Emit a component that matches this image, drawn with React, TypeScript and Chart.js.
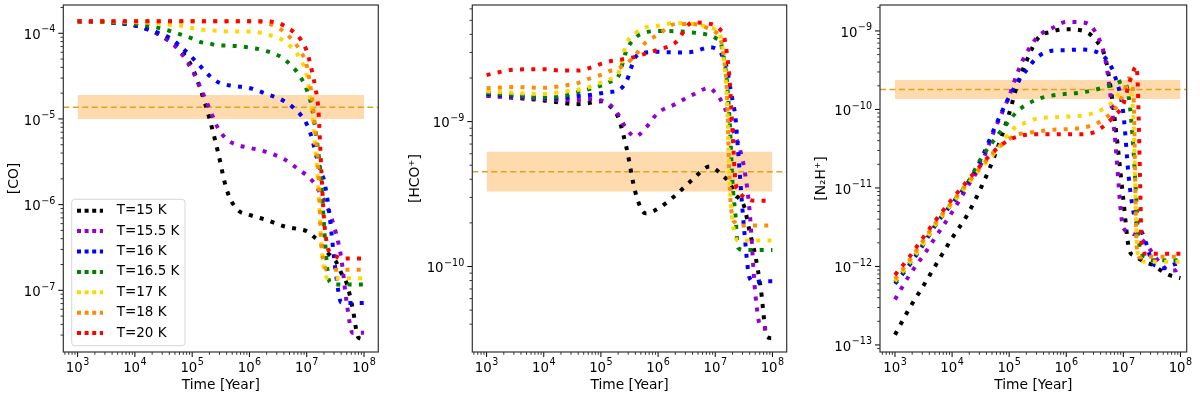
import React, { useEffect, useRef } from 'react';
import { Chart, registerables } from 'chart.js';

Chart.register(...registerables);

const FONT = '"DejaVu Sans", "Liberation Sans", sans-serif';

// ---------- data ----------
const seriesLabels = ['T=15 K', 'T=15.5 K', 'T=16 K', 'T=16.5 K', 'T=17 K', 'T=18 K', 'T=20 K'];
const seriesColors = ['#000000', '#9400D3', '#0000FF', '#008000', '#FFD700', '#FF8C00', '#FF0000'];

// time grid (years) for [CO] and [HCO+]
const timesA = [1e3, 3e3, 1e4, 2e4, 4e4, 6e4, 1e5, 1.4e5, 2e5, 2.8e5, 4e5, 6e5, 1e6, 2e6, 4e6, 8e6,
  1e7, 1.25e7, 1.4e7, 1.6e7, 1.8e7, 2e7, 2.25e7, 2.5e7, 3.2e7, 4e7, 5e7, 6.3e7, 8e7, 1e8];
// time grid (years) for [N2H+]
const timesB = [1e3, 1.8e3, 3.2e3, 5.6e3, 1e4, 1.8e4, 3.2e4, 5.6e4, 1e5, 1.4e5, 2e5, 3.2e5, 5.6e5, 1e6,
  1.8e6, 3.2e6, 5e6, 7e6, 1e7, 1.25e7, 1.5e7, 1.7e7, 1.8e7, 1.95e7, 2.1e7, 2.5e7, 3.2e7, 4e7, 5e7, 6.3e7, 8e7, 1e8];

// [CO]
const coT15 = [1.38e-4, 1.35e-4, 1.23e-4, 1.06e-4, 8.1e-5, 6.6e-5, 4.0e-5, 2.2e-5, 1.02e-5, 4.2e-6, 1.5e-6, 8.9e-7,
  7.6e-7, 6.6e-7, 5.6e-7, 5.1e-7, 4.9e-7, 4.4e-7, 4.1e-7, 3.8e-7, 3.4e-7, 3.1e-7, 2.8e-7, 2.6e-7, 2.2e-7, 1.6e-7,
  1.2e-7, 6.3e-8, 2.8e-8, 2.7e-8];
const coT155 = [1.38e-4, 1.35e-4, 1.23e-4, 1.06e-4, 8.1e-5, 6.2e-5, 3.7e-5, 2.3e-5, 1.32e-5, 7.9e-6, 5.8e-6, 5.0e-6,
  4.6e-6, 4.1e-6, 3.4e-6, 2.45e-6, 2.2e-6, 1.9e-6, 1.74e-6, 1.48e-6, 1.26e-6, 1.12e-6, 9.5e-7, 8.1e-7, 4.8e-7, 2.4e-7,
  7.1e-8, 3.2e-8, 3.2e-8, 3.2e-8];
const coT16 = [1.38e-4, 1.35e-4, 1.24e-4, 1.07e-4, 8.9e-5, 7.2e-5, 5.2e-5, 4.1e-5, 3.2e-5, 2.7e-5, 2.5e-5, 2.4e-5,
  2.3e-5, 1.95e-5, 1.62e-5, 1.1e-5, 8.7e-6, 5.8e-6, 4.2e-6, 3.0e-6, 2.3e-6, 1.95e-6, 1.26e-6, 7.6e-7, 1.66e-7, 7.2e-8,
  7.1e-8, 7.1e-8, 7.1e-8, 7.1e-8];
const coT165 = [1.38e-4, 1.35e-4, 1.29e-4, 1.2e-4, 1.07e-4, 9.8e-5, 8.7e-5, 7.9e-5, 7.6e-5, 7.2e-5, 7.2e-5, 7.1e-5,
  6.8e-5, 6.2e-5, 5.0e-5, 3.0e-5, 2.2e-5, 1.3e-5, 7.9e-6, 4.0e-6, 1.8e-6, 5.8e-7, 2.0e-7, 1.26e-7, 1.17e-7, 1.17e-7,
  1.17e-7, 1.17e-7, 1.17e-7, 1.17e-7];
const coT17 = [1.38e-4, 1.38e-4, 1.35e-4, 1.32e-4, 1.26e-4, 1.23e-4, 1.15e-4, 1.11e-4, 1.08e-4, 1.07e-4, 1.05e-4, 1.05e-4,
  1.05e-4, 9.7e-5, 8.1e-5, 4.8e-5, 3.2e-5, 1.12e-5, 5.0e-6, 1.5e-6, 3.4e-7, 1.8e-7, 1.4e-7, 1.38e-7, 1.38e-7, 1.38e-7,
  1.38e-7, 1.38e-7, 1.38e-7, 1.38e-7];
const coT18 = [1.38e-4, 1.38e-4, 1.38e-4, 1.38e-4, 1.38e-4, 1.38e-4, 1.38e-4, 1.38e-4, 1.38e-4, 1.38e-4, 1.38e-4, 1.38e-4,
  1.38e-4, 1.32e-4, 1.04e-4, 6.0e-5, 4.2e-5, 1.66e-5, 7.9e-6, 2.5e-6, 3.5e-7, 2.1e-7, 1.74e-7, 1.74e-7, 1.74e-7, 1.74e-7,
  1.74e-7, 1.74e-7, 1.74e-7, 1.74e-7];
const coT20 = [1.38e-4, 1.38e-4, 1.38e-4, 1.38e-4, 1.38e-4, 1.38e-4, 1.38e-4, 1.38e-4, 1.38e-4, 1.38e-4, 1.38e-4, 1.38e-4,
  1.38e-4, 1.38e-4, 1.23e-4, 8.3e-5, 6.2e-5, 3.5e-5, 2.4e-5, 1.26e-5, 2.5e-6, 6.9e-7, 3.5e-7, 2.8e-7, 2.5e-7, 2.35e-7,
  2.35e-7, 2.35e-7, 2.35e-7, 2.35e-7];

// [HCO+]
const hcoT15 = [1.51e-9, 1.46e-9, 1.4e-9, 1.35e-9, 1.32e-9, 1.34e-9, 1.38e-9, 1.29e-9, 1.07e-9, 6.6e-10, 3.26e-10, 2.33e-10,
  2.51e-10, 3.09e-10, 3.98e-10, 4.9e-10, 4.7e-10, 4.37e-10, 4.18e-10, 3.98e-10, 3.7e-10, 3.47e-10, 3.09e-10, 3.0e-10,
  2.6e-10, 1.74e-10, 1.2e-10, 6.9e-11, 3.26e-11, 3.2e-11];
const hcoT155 = [1.51e-9, 1.48e-9, 1.43e-9, 1.41e-9, 1.41e-9, 1.43e-9, 1.4e-9, 1.32e-9, 1.12e-9, 8.9e-10, 7.9e-10, 9.0e-10,
  1.15e-9, 1.32e-9, 1.53e-9, 1.71e-9, 1.58e-9, 1.41e-9, 1.29e-9, 1.15e-9, 1.0e-9, 8.9e-10, 7.9e-10, 7.1e-10, 4.8e-10,
  2.4e-10, 6.6e-11, 3.8e-11, 3.76e-11, 3.76e-11];
const hcoT16 = [1.55e-9, 1.51e-9, 1.46e-9, 1.45e-9, 1.5e-9, 1.52e-9, 1.57e-9, 1.6e-9, 1.64e-9, 1.9e-9, 2.78e-9, 3.0e-9,
  3.03e-9, 3.0e-9, 3.03e-9, 3.26e-9, 3.2e-9, 3.0e-9, 2.7e-9, 2.34e-9, 1.78e-9, 1.41e-9, 1.08e-9, 6.4e-10, 1.81e-10,
  8.3e-11, 7.8e-11, 7.9e-11, 7.9e-11, 7.9e-11];
const hcoT165 = [1.58e-9, 1.53e-9, 1.47e-9, 1.49e-9, 1.6e-9, 1.67e-9, 1.77e-9, 1.87e-9, 2.04e-9, 3.1e-9, 3.8e-9, 4.12e-9,
  4.22e-9, 4.2e-9, 4.12e-9, 3.94e-9, 3.79e-9, 3.47e-9, 2.82e-9, 1.9e-9, 9.5e-10, 3.8e-10, 2.29e-10, 1.35e-10, 1.3e-10,
  1.3e-10, 1.3e-10, 1.3e-10, 1.3e-10, 1.3e-10];
const hcoT17 = [1.62e-9, 1.58e-9, 1.55e-9, 1.6e-9, 1.66e-9, 1.72e-9, 1.86e-9, 1.95e-9, 2.14e-9, 3.47e-9, 4.07e-9, 4.47e-9,
  4.59e-9, 4.79e-9, 4.71e-9, 4.47e-9, 4.32e-9, 3.8e-9, 2.75e-9, 1.41e-9, 3.55e-10, 2.09e-10, 1.62e-10, 1.5e-10, 1.51e-10,
  1.51e-10, 1.51e-10, 1.51e-10, 1.51e-10, 1.51e-10];
const hcoT18 = [1.7e-9, 1.73e-9, 1.71e-9, 1.76e-9, 1.85e-9, 1.97e-9, 2.1e-9, 2.23e-9, 2.33e-9, 2.51e-9, 2.88e-9, 3.5e-9,
  3.98e-9, 4.71e-9, 4.72e-9, 4.37e-9, 4.17e-9, 3.66e-9, 2.82e-9, 1.58e-9, 3.4e-10, 2.19e-10, 2.0e-10, 1.9e-10, 1.92e-10,
  1.92e-10, 1.92e-10, 1.92e-10, 1.92e-10, 1.92e-10];
const hcoT20 = [2.1e-9, 2.28e-9, 2.3e-9, 2.25e-9, 2.25e-9, 2.33e-9, 2.5e-9, 2.6e-9, 2.66e-9, 2.72e-9, 2.8e-9, 2.95e-9,
  3.13e-9, 3.5e-9, 4.84e-9, 4.73e-9, 4.6e-9, 4.27e-9, 3.98e-9, 2.95e-9, 1.86e-9, 8.7e-10, 3.9e-10, 3.4e-10, 3.0e-10,
  2.88e-10, 2.84e-10, 2.84e-10, 2.84e-10, 2.84e-10];

// [N2H+]
const n2hT15 = [1.35e-13, 2.95e-13, 5.8e-13, 1.15e-12, 2.3e-12, 4.4e-12, 1.0e-11, 2.6e-11, 8.9e-11, 2.1e-10, 4.1e-10,
  8.1e-10, 9.8e-10, 1.05e-9, 1.02e-9, 7.8e-10, 4.1e-10, 7.9e-11, 7.1e-12, 1.7e-12, 1.38e-12, 1.32e-12, 1.29e-12,
  1.23e-12, 1.2e-12, 1.12e-12, 1.05e-12, 9.5e-13, 8.5e-13, 7.8e-13, 7.4e-13, 7.1e-13];
const n2hT155 = [3.8e-13, 7.8e-13, 1.41e-12, 2.6e-12, 4.9e-12, 1.0e-11, 2.0e-11, 5.6e-11, 1.48e-10, 2.95e-10, 5.2e-10,
  8.5e-10, 1.08e-9, 1.3e-9, 1.29e-9, 9.8e-10, 3.8e-10, 5.0e-11, 3.1e-12, 2.8e-12, 2.6e-12, 2.5e-12, 2.4e-12, 2.3e-12,
  2.2e-12, 1.95e-12, 1.5e-12, 1.2e-12, 1.0e-12, 8.9e-13, 8.9e-13, 1.0e-12];
const n2hT16 = [6.0e-13, 1.05e-12, 1.95e-12, 3.7e-12, 6.3e-12, 1.1e-11, 2.3e-11, 5.9e-11, 1.45e-10, 2.2e-10, 3.16e-10,
  4.7e-10, 5.6e-10, 5.7e-10, 5.8e-10, 5.5e-10, 4.4e-10, 2.75e-10, 8.9e-11, 1.32e-11, 5.0e-12, 3.6e-12, 3.3e-12,
  2.95e-12, 2.75e-12, 2.0e-12, 1.12e-12, 1.0e-12, 9.5e-13, 1.0e-12, 1.07e-12, 1.1e-12];
const n2hT165 = [6.3e-13, 1.1e-12, 2.0e-12, 3.7e-12, 6.4e-12, 1.1e-11, 2.35e-11, 4.2e-11, 7.2e-11, 9.5e-11, 1.15e-10,
  1.36e-10, 1.5e-10, 1.58e-10, 1.64e-10, 1.78e-10, 1.95e-10, 2.1e-10, 2.3e-10, 1.41e-10, 3.2e-11, 6.3e-12, 2.8e-12,
  1.74e-12, 1.45e-12, 1.32e-12, 1.2e-12, 1.2e-12, 1.2e-12, 1.2e-12, 1.2e-12, 1.2e-12];
const n2hT17 = [6.5e-13, 1.12e-12, 2.0e-12, 3.8e-12, 6.3e-12, 1.07e-11, 1.78e-11, 2.8e-11, 5.0e-11, 6.2e-11, 6.8e-11,
  7.7e-11, 7.9e-11, 8.1e-11, 8.3e-11, 9.1e-11, 1.07e-10, 1.32e-10, 1.86e-10, 1.9e-10, 8.0e-11, 2.5e-12, 1.41e-12,
  1.26e-12, 1.17e-12, 1.15e-12, 1.15e-12, 1.15e-12, 1.15e-12, 1.15e-12, 1.15e-12, 1.15e-12];
const n2hT18 = [6.9e-13, 1.2e-12, 2.2e-12, 3.9e-12, 6.6e-12, 1.12e-11, 1.86e-11, 2.95e-11, 4.2e-11, 4.8e-11, 5.0e-11,
  5.25e-11, 5.5e-11, 5.6e-11, 5.8e-11, 6.5e-11, 7.9e-11, 1.0e-10, 1.58e-10, 2.5e-10, 1.58e-10, 2.0e-12, 1.41e-12,
  1.3e-12, 1.3e-12, 1.33e-12, 1.33e-12, 1.33e-12, 1.33e-12, 1.33e-12, 1.33e-12, 1.33e-12];
const n2hT20 = [7.8e-13, 1.33e-12, 2.4e-12, 4.2e-12, 7.2e-12, 1.2e-11, 1.95e-11, 3.0e-11, 4.1e-11, 4.5e-11, 4.76e-11,
  4.83e-11, 4.83e-11, 4.83e-11, 4.83e-11, 5.2e-11, 6.5e-11, 8.3e-11, 1.17e-10, 2.1e-10, 3.1e-10, 3.55e-10, 1.78e-10,
  1.6e-11, 1.78e-12, 1.45e-12, 1.45e-12, 1.45e-12, 1.45e-12, 1.45e-12, 1.45e-12, 1.45e-12];

// observed values: [low, value, high]
const obsCO = [1.0e-5, 1.37e-5, 1.9e-5];
const obsHCO = [3.3e-10, 4.5e-10, 6.2e-10];
const obsN2H = [1.36e-10, 1.8e-10, 2.38e-10];
const bandTimes = [1e3, 1e8];

// ---------- helpers ----------
function tickKind(v: number): 'major' | 'minor' | null {
  const lg = Math.log10(v);
  const r = Math.round(lg);
  if (Math.abs(lg - r) < 1e-6) return 'major';
  const e = Math.floor(lg);
  const m = v / Math.pow(10, e);
  const mr = Math.round(m);
  if (Math.abs(m - mr) < 1e-6 * mr && mr >= 2 && mr <= 9) return 'minor';
  return null;
}
function expText(v: number): string {
  const r = Math.round(Math.log10(v));
  return r < 0 ? '\u2212' + String(-r) : String(r);
}

const MAIN_FONT = '13.3px ' + FONT;
const SUP_FONT = '9.6px ' + FONT;

function drawPowLabel(ctx: any, v: number, x: number, baseline: number, align: 'center' | 'right') {
  ctx.font = MAIN_FONT;
  const w1 = ctx.measureText('10').width;
  ctx.font = SUP_FONT;
  const e = expText(v);
  const w2 = ctx.measureText(e).width;
  const total = w1 + w2 + 0.5;
  const x0 = align === 'center' ? x - total / 2 : x - total;
  ctx.textAlign = 'left';
  ctx.textBaseline = 'alphabetic';
  ctx.fillStyle = '#000';
  ctx.font = MAIN_FONT;
  ctx.fillText('10', x0, baseline);
  ctx.font = SUP_FONT;
  ctx.fillText(e, x0 + w1 + 0.5, baseline - 6.5);
}

const frameTicksPlugin = {
  id: 'frameTicks',
  afterDraw(chart: any) {
    const { ctx, chartArea: a, scales } = chart;
    ctx.save();
    ctx.strokeStyle = '#000';
    const list: [string, any][] = [['x', scales.x], ['y', scales.y]];
    for (const [id, scale] of list) {
      for (const t of scale.ticks) {
        const kind = tickKind(t.value);
        if (!kind) continue;
        const len = kind === 'major' ? 5 : 2.8;
        ctx.lineWidth = kind === 'major' ? 1 : 0.8;
        const p = scale.getPixelForValue(t.value);
        ctx.beginPath();
        if (id === 'x') {
          ctx.moveTo(p, a.bottom);
          ctx.lineTo(p, a.bottom + len);
        } else {
          ctx.moveTo(a.left, p);
          ctx.lineTo(a.left - len, p);
        }
        ctx.stroke();
        if (kind === 'major') {
          if (id === 'x') drawPowLabel(ctx, t.value, p, a.bottom + 19.8, 'center');
          else drawPowLabel(ctx, t.value, a.left - 8, p + 5.7, 'right');
        }
      }
    }
    ctx.lineWidth = 1.2;
    ctx.strokeStyle = '#333';
    ctx.strokeRect(a.left, a.top, a.right - a.left, a.bottom - a.top);
    ctx.restore();
  },
};

const boxLegendPlugin = {
  id: 'boxLegend',
  afterDraw(chart: any) {
    const { ctx, chartArea: a } = chart;
    const series = chart.data.datasets.filter((d: any) => !String(d.label).startsWith('_'));
    const w = 113.3;
    const h = 146.4;
    const x0 = a.left + 8.4;
    const y0 = a.bottom - 6.3 - h;
    ctx.save();
    const r = 3;
    ctx.beginPath();
    ctx.moveTo(x0 + r, y0);
    ctx.lineTo(x0 + w - r, y0);
    ctx.arcTo(x0 + w, y0, x0 + w, y0 + r, r);
    ctx.lineTo(x0 + w, y0 + h - r);
    ctx.arcTo(x0 + w, y0 + h, x0 + w - r, y0 + h, r);
    ctx.lineTo(x0 + r, y0 + h);
    ctx.arcTo(x0, y0 + h, x0, y0 + h - r, r);
    ctx.lineTo(x0, y0 + r);
    ctx.arcTo(x0, y0, x0 + r, y0, r);
    ctx.closePath();
    ctx.fillStyle = 'rgba(255,255,255,0.8)';
    ctx.fill();
    ctx.strokeStyle = 'rgba(204,204,204,0.8)';
    ctx.lineWidth = 1;
    ctx.stroke();
    ctx.font = '13.5px ' + FONT;
    ctx.textBaseline = 'middle';
    ctx.textAlign = 'left';
    series.forEach((d: any, i: number) => {
      const y = y0 + 11.4 + i * 20.4;
      ctx.strokeStyle = d.borderColor;
      ctx.lineWidth = 4;
      ctx.lineCap = 'butt';
      ctx.setLineDash([4, 3.6]);
      ctx.beginPath();
      ctx.moveTo(x0 + 5.3, y);
      ctx.lineTo(x0 + 31.3, y);
      ctx.stroke();
      ctx.setLineDash([]);
      ctx.fillStyle = '#000';
      ctx.fillText(d.label, x0 + 45, y);
    });
    ctx.restore();
  },
};

type PanelDef = {
  times: number[];
  series: number[][];
  obs: number[];
  xRange: [number, number];
  yRange: [number, number];
  yTitle: string;
  yAxisWidth: number;
  padRight: number;
  yTitlePad: number;
  legend: boolean;
};

const panels: PanelDef[] = [
  {
    times: timesA,
    series: [coT15, coT155, coT16, coT165, coT17, coT18, coT20],
    obs: obsCO,
    xRange: [562.3, 1.778e8],
    yRange: [1.905e-8, 2.138e-4],
    yTitle: '[CO]',
    yAxisWidth: 63.3,
    padRight: 21.7,
    yTitlePad: 5.8,
    legend: true,
  },
  {
    times: timesA,
    series: [hcoT15, hcoT155, hcoT16, hcoT165, hcoT17, hcoT18, hcoT20],
    obs: obsHCO,
    xRange: [562.3, 1.778e8],
    yRange: [2.57e-11, 6.38e-9],
    yTitle: '[HCO\u207A]',
    yAxisWidth: 72.3,
    padRight: 13.3,
    yTitlePad: 6.8,
    legend: false,
  },
  {
    times: timesB,
    series: [n2hT15, n2hT155, n2hT16, n2hT165, n2hT17, n2hT18, n2hT20],
    obs: obsN2H,
    xRange: [546, 1.288e8],
    yRange: [8.13e-14, 2.14e-9],
    yTitle: '[N\u2082H\u207A]',
    yAxisWidth: 80,
    padRight: 13.3,
    yTitlePad: 12.8,
    legend: false,
  },
];

function Panel({ def, left }: { def: PanelDef; left: number }) {
  const ref = useRef<HTMLCanvasElement>(null);
  useEffect(() => {
    const canvas = ref.current;
    if (!canvas) return;
    const datasets: any[] = [
      {
        label: '_band',
        data: bandTimes.map((t) => ({ x: t, y: def.obs[2] })),
        borderColor: 'rgba(0,0,0,0)',
        borderWidth: 0,
        pointRadius: 0,
        backgroundColor: 'rgba(255,140,0,0.32)',
        fill: { value: def.obs[0] },
        order: 20,
      },
      {
        label: '_obs',
        data: def.xRange.map((t) => ({ x: t, y: def.obs[1] })),
        borderColor: '#DAA520',
        borderWidth: 1.5,
        borderDash: [6, 3.5],
        pointRadius: 0,
        fill: false,
        order: 19,
      },
      ...def.series.map((vals, i) => ({
        label: seriesLabels[i],
        data: def.times.map((t, j) => ({ x: t, y: vals[j] })),
        borderColor: seriesColors[i],
        backgroundColor: seriesColors[i],
        borderWidth: 4,
        borderDash: [4, 7.3],
        borderCapStyle: 'butt',
        pointRadius: 0,
        fill: false,
        cubicInterpolationMode: 'monotone',
        order: 6 - i,
      })),
    ];
    const titleFont = { family: FONT, size: 13.8 };
    const chart = new Chart(canvas, {
      type: 'line',
      data: { datasets },
      options: {
        animation: false,
        responsive: false,
        maintainAspectRatio: false,
        events: [],
        layout: { padding: { left: 0, top: 5, right: def.padRight, bottom: 0 } },
        plugins: { legend: { display: false }, tooltip: { enabled: false } },
        scales: {
          x: {
            type: 'logarithmic',
            min: def.xRange[0],
            max: def.xRange[1],
            grid: { display: false, drawTicks: false },
            border: { display: false },
            ticks: { display: false, autoSkip: false },
            title: {
              display: true,
              text: 'Time [Year]',
              color: '#000',
              font: titleFont,
              padding: { top: 0, bottom: 4.7 },
            },
            afterFit: (s: any) => {
              s.height = 46;
              s.paddingLeft = 0;
              s.paddingRight = 0;
            },
          },
          y: {
            type: 'logarithmic',
            min: def.yRange[0],
            max: def.yRange[1],
            grid: { display: false, drawTicks: false },
            border: { display: false },
            ticks: { display: false, autoSkip: false },
            title: {
              display: true,
              text: def.yTitle,
              color: '#000',
              font: titleFont,
              padding: { top: def.yTitlePad, bottom: 0 },
            },
            afterFit: (s: any) => {
              s.width = def.yAxisWidth;
              s.paddingTop = 0;
              s.paddingBottom = 0;
            },
          },
        },
      } as any,
      plugins: def.legend ? [frameTicksPlugin, boxLegendPlugin] : [frameTicksPlugin],
    });
    return () => chart.destroy();
  }, [def]);
  return (
    <canvas
      ref={ref}
      width={400}
      height={398}
      style={{ position: 'absolute', left, top: 0, width: 400, height: 398 }}
    />
  );
}

export default function App() {
  return (
    <div
      style={{
        position: 'fixed',
        left: 0,
        top: 0,
        width: 1200,
        height: 398,
        background: '#fff',
        overflow: 'hidden',
      }}
    >
      {panels.map((p, i) => (
        <Panel key={i} def={p} left={i * 400} />
      ))}
    </div>
  );
}
